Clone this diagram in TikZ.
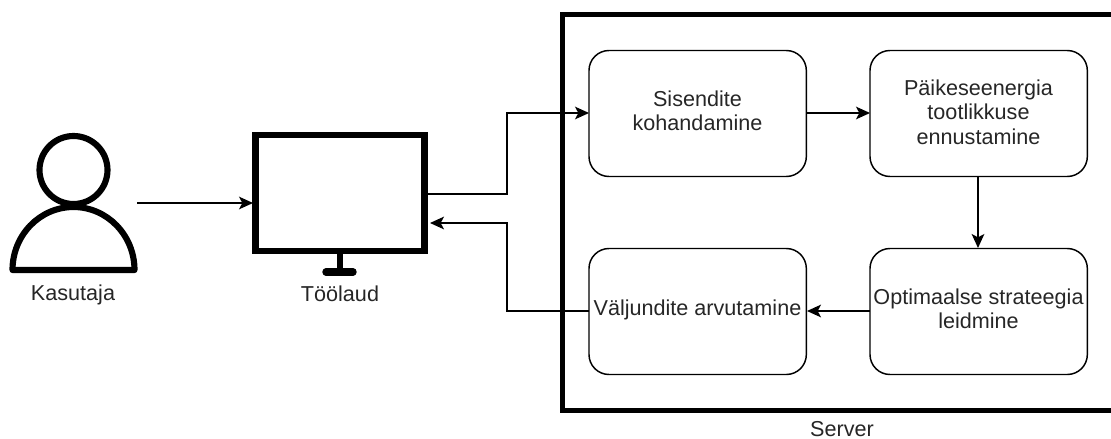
\documentclass[tikz,border=0pt]{standalone}
\usepackage{fontspec}
\setmainfont{Liberation Sans}
\usetikzlibrary{arrows.meta}
\tikzset{
  x=0.75pt,y=-0.75pt,
  stepbox/.style={draw=black,line width=1.1pt,rounded corners=15pt,outer sep=0pt,minimum width=163pt,minimum height=94.5pt,inner sep=0pt,anchor=north west},
  steptext/.style={inner sep=0pt,align=center,text=black!85,font=\fontsize{16.2}{18.3}\selectfont},
  label/.style={inner sep=0pt,font=\fontsize{16.2}{18}\selectfont,text=black!85},
  link/.style={draw=black,line width=1.1pt,-{Stealth[length=10.5pt,width=9.5pt,inset=2.5pt]}},
}
\begin{document}
\begin{tikzpicture}
\useasboundingbox (0,0) rectangle (1111,439);
% server frame, running off the right edge of the picture
\coordinate (frameTR) at (1111,14.5);
\coordinate (frameTL) at (562.5,14.5);
\coordinate (frameBL) at (562.5,410.5);
\coordinate (frameBR) at (1111,410.5);
\draw[line width=3.9pt] (frameTR) -- (frameTL) -- (frameBL) -- (frameBR);
% steps
\node[stepbox] (in) at (589,50.5) {};
\node[stepbox] (pv) at (870,50.5) {};
\node[stepbox] (opt) at (870,248.5) {};
\node[stepbox] (out) at (589,248.5) {};
\node[steptext] (intext) at (697.5,110.5) {Sisendite\\kohandamine};
\node[steptext] (pvtext) at (978.5,112) {Päikeseenergia\\tootlikkuse\\ennustamine};
\node[steptext] (opttext) at (978.5,309) {Optimaalse strateegia\\leidmine};
\node[steptext] (outtext) at (697.5,310) {Väljundite arvutamine};
% person
\node[draw=black,line width=4.6pt,circle,outer sep=0pt,minimum size=51pt,inner sep=0pt] (head) at (73.5,170) {};
\draw[line width=4.6pt,line join=round] (12.5,270) arc[start angle=180,end angle=0,x radius=61,y radius=-63] -- cycle;
\coordinate (body) at (137,203);
% monitor
\node[draw=black,line width=5.2pt,outer sep=0pt,minimum width=126.5pt,minimum height=87pt,inner sep=0pt,anchor=north west] (mon) at (255.5,135) {};
\draw[line width=4.4pt] (340,254) -- (340,270);
\draw[line width=5.6pt,line cap=round] (326,272) -- (353,272);
\coordinate (monin) at (253,203);
\coordinate (monout) at (427,194);
\coordinate (monback) at (430,223);
\coordinate (bendA) at (507,194);
\coordinate (bendB) at (507,113);
\coordinate (bendC) at (507,311);
\coordinate (bendD) at (507,223);
\coordinate (inL) at (589,113);
\coordinate (inR) at (806,113);
\coordinate (pvL) at (870,113);
\coordinate (pvB) at (978,176);
\coordinate (optT) at (978,248);
\coordinate (optL) at (870,311);
\coordinate (outR) at (807,311);
\coordinate (outL) at (589,311);
% links
\draw[link] (body) -- (monin);
\draw[link] (monout) -- (bendA) -- (bendB) -- (inL);
\draw[link] (inR) -- (pvL);
\draw[link] (pvB) -- (optT);
\draw[link] (optL) -- (outR);
\draw[link] (outL) -- (bendC) -- (bendD) -- (monback);
% labels
\node[label] (lk) at (73,295) {Kasutaja};
\node[label] (lt) at (340,294) {Töölaud};
\node[label] (ls) at (842,429) {Server};
\end{tikzpicture}
\end{document}
